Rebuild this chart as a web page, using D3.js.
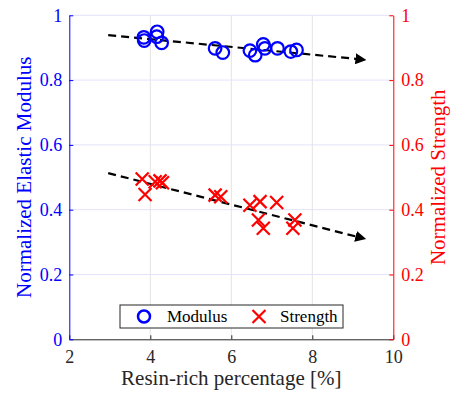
<!DOCTYPE html>
<html>
<head>
<meta charset="utf-8">
<script src="https://cdn.jsdelivr.net/npm/d3@7"></script>
<style>
  body { margin: 0; background: #fff; }
</style>
</head>
<body>
<div id="chart"></div>
<script>
// data
const modulusX = [3.84, 3.85, 4.17, 4.16, 4.28, 5.60, 5.79, 6.46, 6.59, 6.79, 6.83, 7.14, 7.47, 7.61];
const modulusY = [0.932, 0.922, 0.949, 0.934, 0.915, 0.898, 0.885, 0.891, 0.877, 0.910, 0.898, 0.898, 0.888, 0.893];
const strengthX = [3.80, 3.87, 4.12, 4.24, 4.30, 5.60, 5.74, 6.46, 6.67, 6.71, 6.79, 7.12, 7.52, 7.57];
const strengthY = [0.495, 0.447, 0.486, 0.489, 0.483, 0.445, 0.440, 0.414, 0.368, 0.425, 0.343, 0.422, 0.343, 0.368];
// trend arrows [x0, y0, x1, y1]
const modulusTrend = [2.96, 0.939, 9.12, 0.865];
const strengthTrend = [2.96, 0.513, 9.12, 0.316];
const xTicks = [2, 4, 6, 8, 10];
const yTicks = [0, 0.2, 0.4, 0.6, 0.8, 1];

const W = 451, H = 394;
const m = { left: 69.3, right: 393.3, top: 15.3, bottom: 339.3 };
const FONT = "Liberation Serif";

const svg = d3.select("#chart").append("svg")
  .attr("width", W).attr("height", H)
  .style("font-family", FONT);

const x = d3.scaleLinear().domain([2, 10]).range([m.left, m.right]);
const yL = d3.scaleLinear().domain([0, 1]).range([m.bottom, m.top]);
const yR = d3.scaleLinear().domain([0, 1]).range([m.bottom, m.top]);

// grid
svg.append("g").selectAll("line").data(xTicks.slice(1, -1)).join("line")
  .attr("x1", d => x(d)).attr("x2", d => x(d))
  .attr("y1", m.top).attr("y2", m.bottom)
  .attr("stroke", "#e3e3e3").attr("stroke-width", 1);
svg.append("g").selectAll("line").data(yTicks.slice(1)).join("line")
  .attr("x1", m.left).attr("x2", m.right)
  .attr("y1", d => yL(d)).attr("y2", d => yL(d))
  .attr("stroke", "#e2e2fb").attr("stroke-width", 1);

// axes
function styleAxis(g, col) {
  g.attr("font-family", null).attr("font-size", 18);
  g.select(".domain").attr("stroke", col);
  g.selectAll(".tick line").attr("stroke", col);
  g.selectAll("text").attr("fill", col).style("font-family", FONT);
}
const xAxis = svg.append("g")
  .attr("transform", "translate(0," + m.bottom + ")")
  .call(d3.axisBottom(x).tickValues(xTicks).tickFormat(d3.format("d"))
    .tickSizeInner(-4).tickSizeOuter(0).tickPadding(11));
styleAxis(xAxis, "#262626");

const yAxisL = svg.append("g")
  .attr("transform", "translate(" + m.left + ",0)")
  .call(d3.axisLeft(yL).tickValues(yTicks).tickFormat(d => String(d))
    .tickSizeInner(-4).tickSizeOuter(0).tickPadding(7));
styleAxis(yAxisL, "#0000ff");

const yAxisR = svg.append("g")
  .attr("transform", "translate(" + m.right + ",0)")
  .call(d3.axisRight(yR).tickValues(yTicks).tickFormat(d => String(d))
    .tickSizeInner(-4).tickSizeOuter(0).tickPadding(8));
styleAxis(yAxisR, "#ff0000");

// axis titles
svg.append("text")
  .attr("x", (m.left + m.right) / 2).attr("y", 385)
  .attr("text-anchor", "middle").attr("fill", "#262626")
  .attr("font-size", 21).text("Resin-rich percentage [%]");
svg.append("text")
  .attr("transform", "translate(31," + (m.top + m.bottom) / 2 + ") rotate(-90)")
  .attr("text-anchor", "middle").attr("fill", "#0000ff")
  .attr("font-size", 21).text("Normalized Elastic Modulus");
svg.append("text")
  .attr("transform", "translate(445," + (m.top + m.bottom) / 2 + ") rotate(-90)")
  .attr("text-anchor", "middle").attr("fill", "#ff0000")
  .attr("font-size", 21).text("Normalized Strength");

// arrow head
svg.append("defs").append("marker")
  .attr("id", "arrow").attr("viewBox", "0 0 10 10")
  .attr("refX", 2).attr("refY", 5)
  .attr("markerWidth", 5).attr("markerHeight", 5)
  .attr("orient", "auto")
  .append("path").attr("d", "M0,0 L10,5 L0,10 Z").attr("fill", "#000");

function trend(t, y) {
  svg.append("line")
    .attr("x1", x(t[0])).attr("y1", y(t[1]))
    .attr("x2", x(t[2])).attr("y2", y(t[3]))
    .attr("stroke", "#000").attr("stroke-width", 2.2)
    .attr("stroke-dasharray", "8,5")
    .attr("marker-end", "url(#arrow)");
}
trend(modulusTrend, yL);
trend(strengthTrend, yR);

// markers
svg.append("g").selectAll("circle").data(modulusX).join("circle")
  .attr("cx", d => x(d)).attr("cy", (d, i) => yL(modulusY[i]))
  .attr("r", 6.3).attr("fill", "none")
  .attr("stroke", "#0000ff").attr("stroke-width", 2.2);

const cs = 6.5;
function cross(g, cx, cy) {
  g.append("path")
    .attr("d", "M" + (cx - cs) + "," + (cy - cs) + "L" + (cx + cs) + "," + (cy + cs) +
      "M" + (cx - cs) + "," + (cy + cs) + "L" + (cx + cs) + "," + (cy - cs))
    .attr("stroke", "#ff0000").attr("stroke-width", 2.2).attr("fill", "none");
}
const sg = svg.append("g");
strengthX.forEach((d, i) => cross(sg, x(d), yR(strengthY[i])));

// legend
const lg = svg.append("g");
lg.append("rect").attr("x", 120).attr("y", 305).attr("width", 223).attr("height", 23)
  .attr("fill", "#fff").attr("stroke", "#262626").attr("stroke-width", 1);
lg.append("circle").attr("cx", 144).attr("cy", 316.5).attr("r", 6)
  .attr("fill", "none").attr("stroke", "#0000ff").attr("stroke-width", 2.5);
lg.append("text").attr("x", 167).attr("y", 322).attr("fill", "#000")
  .attr("font-size", 17).text("Modulus");
cross(lg, 259, 316.5);
lg.append("text").attr("x", 280).attr("y", 322).attr("fill", "#000")
  .attr("font-size", 17).text("Strength");
</script>
</body>
</html>
